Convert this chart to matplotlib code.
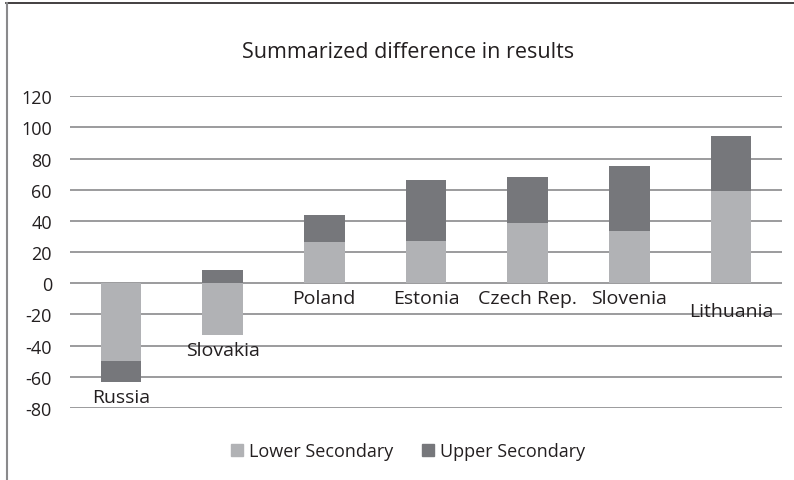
import numpy as np
import matplotlib.pyplot as plt
from matplotlib.patches import Patch
from matplotlib.lines import Line2D

plt.rcParams['font.family'] = ['Open Sans', 'DejaVu Sans']

countries = ['Russia', 'Slovakia', 'Poland', 'Estonia', 'Czech Rep.', 'Slovenia', 'Lithuania']
lower_sec = [-50.1, -33.2, 26.3, 27.0, 38.6, 33.4, 59.1]
upper_sec = [-13.3, 8.4, 17.4, 39.2, 29.5, 41.8, 35.4]
yticks = [-80, -60, -40, -20, 0, 20, 40, 60, 80, 100, 120]

c_low = '#b1b2b5'
c_up = '#76777b'
txt = '#231f20'

fig = plt.figure(figsize=(7.94, 4.81), dpi=100)
ax = fig.add_axes([70/794, 1-409/481, 712/794, (409-97.3)/481])

x = np.arange(len(countries))
low = np.array(lower_sec)
up = np.array(upper_sec)
# stack: upper goes on top of lower when same sign, else from 0
up_bottom = np.where(np.sign(up) == np.sign(low), low, 0)

ax.bar(x, low, width=0.4, color=c_low, zorder=3)
ax.bar(x, up, bottom=up_bottom, width=0.4, color=c_up, zorder=3)

ax.set_xlim(-0.5, len(countries) - 0.5)
ax.set_ylim(-80, 120)
ax.set_yticks(yticks)
ax.set_yticklabels([str(t) for t in yticks], fontsize=13, color=txt)
ax.tick_params(axis='y', length=0, pad=13)
ax.set_xticks([])
for s in ax.spines.values():
    s.set_visible(False)
ax.yaxis.grid(True, color='#8a8a8c', lw=1.2, zorder=1)

# category labels sit just under the axis or under the lowest part of the bar
low_end = np.minimum(0, np.minimum(low, up_bottom + up))
for i, name in enumerate(countries):
    yy = low_end[i] - 9.5
    if name == 'Lithuania':
        yy -= 8
    ax.text(x[i], yy, name, ha='center', va='center', fontsize=14, color=txt, zorder=4)

fig.text(408/794, 1-53/481, 'Summarized difference in results', ha='center', va='center',
         fontsize=15.5, color=txt)

handles = [Patch(color=c_low, label='Lower Secondary'), Patch(color=c_up, label='Upper Secondary')]
fig.legend(handles=handles, loc='center', bbox_to_anchor=(408/794, 1-452/481), ncol=2,
           frameon=False, fontsize=13, handlelength=0.65, handleheight=0.65,
           handletextpad=0.35, columnspacing=1.6, labelcolor=txt)

# frame lines (top and left)
fig.add_artist(Line2D([6/794, 1], [1-4/481, 1-4/481], color=txt, lw=1.2, transform=fig.transFigure))
fig.add_artist(Line2D([6.5/794, 6.5/794], [0, 1-4/481], color='#8a8a8c', lw=1.5, transform=fig.transFigure))

fig.savefig('out.png', dpi=100)
